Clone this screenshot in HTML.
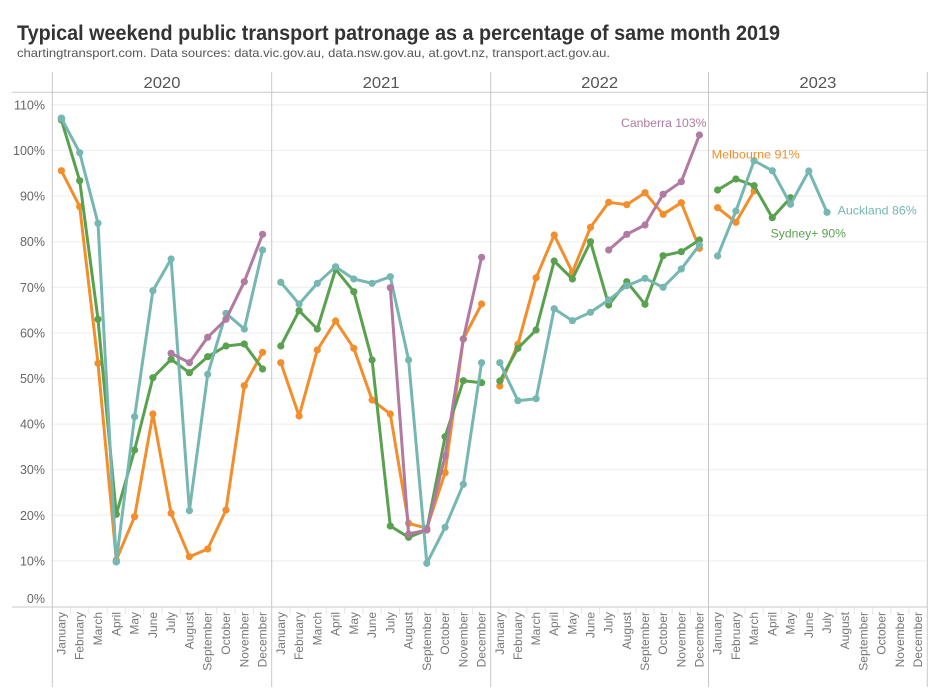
<!DOCTYPE html>
<html><head><meta charset="utf-8"><style>
html,body{margin:0;padding:0;background:#fff;}
svg{display:block;}
text{font-family:"Liberation Sans",Arial,sans-serif;}
</style></head><body>
<svg width="940" height="700" viewBox="0 0 940 700" xmlns="http://www.w3.org/2000/svg">
<rect width="940" height="700" fill="#fff"/>
<!-- Title -->
<text x="17" y="40" font-size="21" font-weight="bold" fill="#333" textLength="763" lengthAdjust="spacingAndGlyphs">Typical weekend public transport patronage as a percentage of same month 2019</text>
<text x="17" y="57" font-size="12" fill="#555" textLength="593" lengthAdjust="spacingAndGlyphs">chartingtransport.com. Data sources: data.vic.gov.au, data.nsw.gov.au, at.govt.nz, transport.act.gov.au.</text>

<!-- gridlines -->
<g stroke="#eeeeee" stroke-width="1">
<line x1="52.3" x2="927.3" y1="560.9" y2="560.9"/>
<line x1="52.3" x2="927.3" y1="515.3" y2="515.3"/>
<line x1="52.3" x2="927.3" y1="469.7" y2="469.7"/>
<line x1="52.3" x2="927.3" y1="424.1" y2="424.1"/>
<line x1="52.3" x2="927.3" y1="378.5" y2="378.5"/>
<line x1="52.3" x2="927.3" y1="332.9" y2="332.9"/>
<line x1="52.3" x2="927.3" y1="287.3" y2="287.3"/>
<line x1="52.3" x2="927.3" y1="241.7" y2="241.7"/>
<line x1="52.3" x2="927.3" y1="196.1" y2="196.1"/>
<line x1="52.3" x2="927.3" y1="150.5" y2="150.5"/>
<line x1="52.3" x2="927.3" y1="104.9" y2="104.9"/>
</g>

<!-- month tick separators -->
<g stroke="#e6e6e6" stroke-width="1">
<line x1="70.6" x2="70.6" y1="607" y2="614"/><line x1="88.9" x2="88.9" y1="607" y2="614"/><line x1="107.2" x2="107.2" y1="607" y2="614"/><line x1="125.4" x2="125.4" y1="607" y2="614"/><line x1="143.7" x2="143.7" y1="607" y2="614"/><line x1="162" x2="162" y1="607" y2="614"/><line x1="180.3" x2="180.3" y1="607" y2="614"/><line x1="198.6" x2="198.6" y1="607" y2="614"/><line x1="216.8" x2="216.8" y1="607" y2="614"/><line x1="235.1" x2="235.1" y1="607" y2="614"/><line x1="253.4" x2="253.4" y1="607" y2="614"/>
<line x1="290" x2="290" y1="607" y2="614"/><line x1="308.2" x2="308.2" y1="607" y2="614"/><line x1="326.5" x2="326.5" y1="607" y2="614"/><line x1="344.7" x2="344.7" y1="607" y2="614"/><line x1="363" x2="363" y1="607" y2="614"/><line x1="381.2" x2="381.2" y1="607" y2="614"/><line x1="399.5" x2="399.5" y1="607" y2="614"/><line x1="417.7" x2="417.7" y1="607" y2="614"/><line x1="436" x2="436" y1="607" y2="614"/><line x1="454.2" x2="454.2" y1="607" y2="614"/><line x1="472.5" x2="472.5" y1="607" y2="614"/>
<line x1="508.9" x2="508.9" y1="607" y2="614"/><line x1="527" x2="527" y1="607" y2="614"/><line x1="545.2" x2="545.2" y1="607" y2="614"/><line x1="563.3" x2="563.3" y1="607" y2="614"/><line x1="581.5" x2="581.5" y1="607" y2="614"/><line x1="599.6" x2="599.6" y1="607" y2="614"/><line x1="617.8" x2="617.8" y1="607" y2="614"/><line x1="635.9" x2="635.9" y1="607" y2="614"/><line x1="654.1" x2="654.1" y1="607" y2="614"/><line x1="672.2" x2="672.2" y1="607" y2="614"/><line x1="690.4" x2="690.4" y1="607" y2="614"/>
<line x1="726.7" x2="726.7" y1="607" y2="614"/><line x1="745" x2="745" y1="607" y2="614"/><line x1="763.2" x2="763.2" y1="607" y2="614"/><line x1="781.4" x2="781.4" y1="607" y2="614"/><line x1="799.7" x2="799.7" y1="607" y2="614"/><line x1="817.9" x2="817.9" y1="607" y2="614"/><line x1="836.1" x2="836.1" y1="607" y2="614"/><line x1="854.3" x2="854.3" y1="607" y2="614"/><line x1="872.6" x2="872.6" y1="607" y2="614"/><line x1="890.8" x2="890.8" y1="607" y2="614"/><line x1="909" x2="909" y1="607" y2="614"/>
</g>

<!-- axis / frame lines -->
<g stroke="#c8c8c8" stroke-width="1">
<line x1="12" x2="927.3" y1="92.3" y2="92.3"/>
<line x1="12" x2="927.3" y1="607" y2="607"/>
<line x1="52.3" x2="52.3" y1="72" y2="687"/>
<line x1="271.7" x2="271.7" y1="72" y2="687"/>
<line x1="490.7" x2="490.7" y1="72" y2="687"/>
<line x1="708.5" x2="708.5" y1="72" y2="687"/>
<line x1="927.3" x2="927.3" y1="72" y2="687"/>
</g>

<!-- year headers -->
<g font-size="16" fill="#555" text-anchor="middle">
<text x="162" y="88" textLength="37" lengthAdjust="spacingAndGlyphs">2020</text>
<text x="381.2" y="88" textLength="37" lengthAdjust="spacingAndGlyphs">2021</text>
<text x="599.6" y="88" textLength="37" lengthAdjust="spacingAndGlyphs">2022</text>
<text x="817.9" y="88" textLength="37" lengthAdjust="spacingAndGlyphs">2023</text>
</g>

<!-- y axis labels -->
<g font-size="12.5" fill="#666" text-anchor="end" dominant-baseline="central">
<text x="45" y="105.5">110%</text>
<text x="45" y="151">100%</text>
<text x="45" y="196.6">90%</text>
<text x="45" y="242.2">80%</text>
<text x="45" y="287.8">70%</text>
<text x="45" y="333.4">60%</text>
<text x="45" y="379">50%</text>
<text x="45" y="424.6">40%</text>
<text x="45" y="470.2">30%</text>
<text x="45" y="515.8">20%</text>
<text x="45" y="561.4">10%</text>
<text x="45" y="599">0%</text>
</g>

<!-- month labels -->
<g font-size="12" fill="#777" text-anchor="end" dominant-baseline="central">
<text transform="translate(61.4,612) rotate(-90)">January</text>
<text transform="translate(79.7,612) rotate(-90)">February</text>
<text transform="translate(98,612) rotate(-90)">March</text>
<text transform="translate(116.3,612) rotate(-90)">April</text>
<text transform="translate(134.6,612) rotate(-90)">May</text>
<text transform="translate(152.9,612) rotate(-90)">June</text>
<text transform="translate(171.1,612) rotate(-90)">July</text>
<text transform="translate(189.4,612) rotate(-90)">August</text>
<text transform="translate(207.7,612) rotate(-90)">September</text>
<text transform="translate(226,612) rotate(-90)">October</text>
<text transform="translate(244.3,612) rotate(-90)">November</text>
<text transform="translate(262.6,612) rotate(-90)">December</text>

<text transform="translate(280.8,612) rotate(-90)">January</text>
<text transform="translate(299.1,612) rotate(-90)">February</text>
<text transform="translate(317.3,612) rotate(-90)">March</text>
<text transform="translate(335.6,612) rotate(-90)">April</text>
<text transform="translate(353.8,612) rotate(-90)">May</text>
<text transform="translate(372.1,612) rotate(-90)">June</text>
<text transform="translate(390.3,612) rotate(-90)">July</text>
<text transform="translate(408.6,612) rotate(-90)">August</text>
<text transform="translate(426.8,612) rotate(-90)">September</text>
<text transform="translate(445.1,612) rotate(-90)">October</text>
<text transform="translate(463.3,612) rotate(-90)">November</text>
<text transform="translate(481.6,612) rotate(-90)">December</text>

<text transform="translate(499.8,612) rotate(-90)">January</text>
<text transform="translate(517.9,612) rotate(-90)">February</text>
<text transform="translate(536.1,612) rotate(-90)">March</text>
<text transform="translate(554.2,612) rotate(-90)">April</text>
<text transform="translate(572.4,612) rotate(-90)">May</text>
<text transform="translate(590.5,612) rotate(-90)">June</text>
<text transform="translate(608.7,612) rotate(-90)">July</text>
<text transform="translate(626.8,612) rotate(-90)">August</text>
<text transform="translate(645,612) rotate(-90)">September</text>
<text transform="translate(663.1,612) rotate(-90)">October</text>
<text transform="translate(681.3,612) rotate(-90)">November</text>
<text transform="translate(699.4,612) rotate(-90)">December</text>

<text transform="translate(717.6,612) rotate(-90)">January</text>
<text transform="translate(735.9,612) rotate(-90)">February</text>
<text transform="translate(754.1,612) rotate(-90)">March</text>
<text transform="translate(772.3,612) rotate(-90)">April</text>
<text transform="translate(790.5,612) rotate(-90)">May</text>
<text transform="translate(808.8,612) rotate(-90)">June</text>
<text transform="translate(827,612) rotate(-90)">July</text>
<text transform="translate(845.2,612) rotate(-90)">August</text>
<text transform="translate(863.5,612) rotate(-90)">September</text>
<text transform="translate(881.7,612) rotate(-90)">October</text>
<text transform="translate(899.9,612) rotate(-90)">November</text>
<text transform="translate(918.2,612) rotate(-90)">December</text>
</g>

<!-- ===== Series ===== -->
<!-- Orange: Melbourne -->
<g stroke="#F28E2B" stroke-width="3" fill="none" stroke-linejoin="round" stroke-linecap="round">
<polyline points="61.4,170.7 79.7,206.7 98,363.3 116.3,560 134.6,516.7 152.9,414 171.1,513.3 189.4,556.7 207.7,549 226,510 244.3,385.7 262.6,352.3"/>
<polyline points="280.8,362.7 299.1,416 317.3,350 335.6,321 353.8,348.3 372.1,400 390.3,414 408.6,523.3 426.8,528.3 445.1,472.7 463.3,339 481.6,304"/>
<polyline points="499.8,386 517.9,344.3 536.1,277.7 554.2,235 572.4,272.3 590.5,227.3 608.7,202.3 626.8,204.7 645,192.7 663.1,214.3 681.3,202.7 699.4,248.3"/>
<polyline points="717.6,207.7 735.9,222.3 754.1,191"/>
</g>
<g fill="#F28E2B">
<circle cx="61.4" cy="170.7" r="3.6"/><circle cx="79.7" cy="206.7" r="3.6"/><circle cx="98" cy="363.3" r="3.6"/><circle cx="116.3" cy="560" r="3.6"/><circle cx="134.6" cy="516.7" r="3.6"/><circle cx="152.9" cy="414" r="3.6"/><circle cx="171.1" cy="513.3" r="3.6"/><circle cx="189.4" cy="556.7" r="3.6"/><circle cx="207.7" cy="549" r="3.6"/><circle cx="226" cy="510" r="3.6"/><circle cx="244.3" cy="385.7" r="3.6"/><circle cx="262.6" cy="352.3" r="3.6"/>
<circle cx="280.8" cy="362.7" r="3.6"/><circle cx="299.1" cy="416" r="3.6"/><circle cx="317.3" cy="350" r="3.6"/><circle cx="335.6" cy="321" r="3.6"/><circle cx="353.8" cy="348.3" r="3.6"/><circle cx="372.1" cy="400" r="3.6"/><circle cx="390.3" cy="414" r="3.6"/><circle cx="408.6" cy="523.3" r="3.6"/><circle cx="426.8" cy="528.3" r="3.6"/><circle cx="445.1" cy="472.7" r="3.6"/><circle cx="463.3" cy="339" r="3.6"/><circle cx="481.6" cy="304" r="3.6"/>
<circle cx="499.8" cy="386" r="3.6"/><circle cx="517.9" cy="344.3" r="3.6"/><circle cx="536.1" cy="277.7" r="3.6"/><circle cx="554.2" cy="235" r="3.6"/><circle cx="572.4" cy="272.3" r="3.6"/><circle cx="590.5" cy="227.3" r="3.6"/><circle cx="608.7" cy="202.3" r="3.6"/><circle cx="626.8" cy="204.7" r="3.6"/><circle cx="645" cy="192.7" r="3.6"/><circle cx="663.1" cy="214.3" r="3.6"/><circle cx="681.3" cy="202.7" r="3.6"/><circle cx="699.4" cy="248.3" r="3.6"/>
<circle cx="717.6" cy="207.7" r="3.6"/><circle cx="735.9" cy="222.3" r="3.6"/><circle cx="754.1" cy="191" r="3.6"/>
</g>

<!-- Green: Sydney -->
<g stroke="#59A14F" stroke-width="3" fill="none" stroke-linejoin="round" stroke-linecap="round">
<polyline points="61.4,120 79.7,180.7 98,319.3 116.3,514.3 134.6,450 152.9,377.7 171.1,359.3 189.4,372.7 207.7,356.7 226,346 244.3,344 262.6,369"/>
<polyline points="280.8,346 299.1,310.7 317.3,329 335.6,269.3 353.8,291.7 372.1,360 390.3,526 408.6,537.3 426.8,530 445.1,436.7 463.3,380.7 481.6,382.7"/>
<polyline points="499.8,381 517.9,348.3 536.1,330 554.2,261 572.4,279 590.5,241.7 608.7,305 626.8,281.7 645,304.3 663.1,255.7 681.3,251.7 699.4,240"/>
<polyline points="717.6,190 735.9,179 754.1,185.7 772.3,217.7 790.5,197.7"/>
</g>
<g fill="#59A14F">
<circle cx="61.4" cy="120" r="3.6"/><circle cx="79.7" cy="180.7" r="3.6"/><circle cx="98" cy="319.3" r="3.6"/><circle cx="116.3" cy="514.3" r="3.6"/><circle cx="134.6" cy="450" r="3.6"/><circle cx="152.9" cy="377.7" r="3.6"/><circle cx="171.1" cy="359.3" r="3.6"/><circle cx="189.4" cy="372.7" r="3.6"/><circle cx="207.7" cy="356.7" r="3.6"/><circle cx="226" cy="346" r="3.6"/><circle cx="244.3" cy="344" r="3.6"/><circle cx="262.6" cy="369" r="3.6"/>
<circle cx="280.8" cy="346" r="3.6"/><circle cx="299.1" cy="310.7" r="3.6"/><circle cx="317.3" cy="329" r="3.6"/><circle cx="335.6" cy="269.3" r="3.6"/><circle cx="353.8" cy="291.7" r="3.6"/><circle cx="372.1" cy="360" r="3.6"/><circle cx="390.3" cy="526" r="3.6"/><circle cx="408.6" cy="537.3" r="3.6"/><circle cx="426.8" cy="530" r="3.6"/><circle cx="445.1" cy="436.7" r="3.6"/><circle cx="463.3" cy="380.7" r="3.6"/><circle cx="481.6" cy="382.7" r="3.6"/>
<circle cx="499.8" cy="381" r="3.6"/><circle cx="517.9" cy="348.3" r="3.6"/><circle cx="536.1" cy="330" r="3.6"/><circle cx="554.2" cy="261" r="3.6"/><circle cx="572.4" cy="279" r="3.6"/><circle cx="590.5" cy="241.7" r="3.6"/><circle cx="608.7" cy="305" r="3.6"/><circle cx="626.8" cy="281.7" r="3.6"/><circle cx="645" cy="304.3" r="3.6"/><circle cx="663.1" cy="255.7" r="3.6"/><circle cx="681.3" cy="251.7" r="3.6"/><circle cx="699.4" cy="240" r="3.6"/>
<circle cx="717.6" cy="190" r="3.6"/><circle cx="735.9" cy="179" r="3.6"/><circle cx="754.1" cy="185.7" r="3.6"/><circle cx="772.3" cy="217.7" r="3.6"/><circle cx="790.5" cy="197.7" r="3.6"/>
</g>

<!-- Teal: Auckland -->
<g stroke="#76B7B2" stroke-width="3" fill="none" stroke-linejoin="round" stroke-linecap="round">
<polyline points="61.4,118.3 79.7,152.7 98,223.3 116.3,561.7 134.6,416.7 152.9,290.7 171.1,259 189.4,510.7 207.7,374.3 226,313.3 244.3,329 262.6,250"/>
<polyline points="280.8,282.3 299.1,304 317.3,283.3 335.6,266.7 353.8,279 372.1,283.3 390.3,276.7 408.6,360 426.8,563.3 445.1,527.3 463.3,484.3 481.6,362.7"/>
<polyline points="499.8,362.7 517.9,400.7 536.1,398.7 554.2,308.7 572.4,320.7 590.5,312.3 608.7,300 626.8,285.7 645,278.3 663.1,287.3 681.3,269 699.4,245"/>
<polyline points="717.6,256 735.9,211 754.1,160.7 772.3,170.7 790.5,204.3 808.8,171 827,212.3"/>
</g>
<g fill="#76B7B2">
<circle cx="61.4" cy="118.3" r="3.8"/><circle cx="79.7" cy="152.7" r="3.6"/><circle cx="98" cy="223.3" r="3.6"/><circle cx="116.3" cy="561.7" r="3.8"/><circle cx="134.6" cy="416.7" r="3.6"/><circle cx="152.9" cy="290.7" r="3.6"/><circle cx="171.1" cy="259" r="3.6"/><circle cx="189.4" cy="510.7" r="3.6"/><circle cx="207.7" cy="374.3" r="3.6"/><circle cx="226" cy="313.3" r="3.6"/><circle cx="244.3" cy="329" r="3.6"/><circle cx="262.6" cy="250" r="3.6"/>
<circle cx="280.8" cy="282.3" r="3.6"/><circle cx="299.1" cy="304" r="3.6"/><circle cx="317.3" cy="283.3" r="3.6"/><circle cx="335.6" cy="266.7" r="3.6"/><circle cx="353.8" cy="279" r="3.6"/><circle cx="372.1" cy="283.3" r="3.6"/><circle cx="390.3" cy="276.7" r="3.6"/><circle cx="408.6" cy="360" r="3.6"/><circle cx="426.8" cy="563.3" r="3.6"/><circle cx="445.1" cy="527.3" r="3.6"/><circle cx="463.3" cy="484.3" r="3.6"/><circle cx="481.6" cy="362.7" r="3.6"/>
<circle cx="499.8" cy="362.7" r="3.6"/><circle cx="517.9" cy="400.7" r="3.6"/><circle cx="536.1" cy="398.7" r="3.6"/><circle cx="554.2" cy="308.7" r="3.6"/><circle cx="572.4" cy="320.7" r="3.6"/><circle cx="590.5" cy="312.3" r="3.6"/><circle cx="608.7" cy="300" r="3.6"/><circle cx="626.8" cy="285.7" r="3.6"/><circle cx="645" cy="278.3" r="3.6"/><circle cx="663.1" cy="287.3" r="3.6"/><circle cx="681.3" cy="269" r="3.6"/><circle cx="699.4" cy="245" r="3.6"/>
<circle cx="717.6" cy="256" r="3.6"/><circle cx="735.9" cy="211" r="3.6"/><circle cx="754.1" cy="160.7" r="3.6"/><circle cx="772.3" cy="170.7" r="3.6"/><circle cx="790.5" cy="204.3" r="3.6"/><circle cx="808.8" cy="171" r="3.6"/><circle cx="827" cy="212.3" r="3.6"/>
</g>

<!-- Purple: Canberra -->
<g stroke="#B07AA1" stroke-width="3" fill="none" stroke-linejoin="round" stroke-linecap="round">
<polyline points="171.1,353.3 189.4,362.7 207.7,337.3 226,319.3 244.3,281.7 262.6,234.3"/>
<polyline points="390.3,287.7 408.6,534 426.8,530 445.1,456 463.3,339 481.6,257.3"/>
<polyline points="608.7,250 626.8,234.3 645,225 663.1,194.3 681.3,181.7 699.4,135"/>
</g>
<g fill="#B07AA1">
<circle cx="171.1" cy="353.3" r="3.6"/><circle cx="189.4" cy="362.7" r="3.6"/><circle cx="207.7" cy="337.3" r="3.6"/><circle cx="226" cy="319.3" r="3.6"/><circle cx="244.3" cy="281.7" r="3.6"/><circle cx="262.6" cy="234.3" r="3.6"/>
<circle cx="390.3" cy="287.7" r="3.6"/><circle cx="408.6" cy="534" r="3.6"/><circle cx="426.8" cy="530" r="3.6"/><circle cx="445.1" cy="456" r="3.6"/><circle cx="463.3" cy="339" r="3.6"/><circle cx="481.6" cy="257.3" r="3.6"/>
<circle cx="608.7" cy="250" r="3.6"/><circle cx="626.8" cy="234.3" r="3.6"/><circle cx="645" cy="225" r="3.6"/><circle cx="663.1" cy="194.3" r="3.6"/><circle cx="681.3" cy="181.7" r="3.6"/><circle cx="699.4" cy="135" r="3.6"/>
</g>

<!-- series labels -->
<g font-size="12">
<text x="621" y="127" fill="#B07AA1" textLength="85.5" lengthAdjust="spacingAndGlyphs">Canberra 103%</text>
<text x="711.7" y="158.5" fill="#F28E2B" textLength="88" lengthAdjust="spacingAndGlyphs">Melbourne 91%</text>
<text x="837.7" y="214.5" fill="#76B7B2" textLength="79" lengthAdjust="spacingAndGlyphs">Auckland 86%</text>
<text x="770.7" y="237.5" fill="#59A14F" textLength="75.3" lengthAdjust="spacingAndGlyphs">Sydney+ 90%</text>
</g>
</svg>
</body></html>
